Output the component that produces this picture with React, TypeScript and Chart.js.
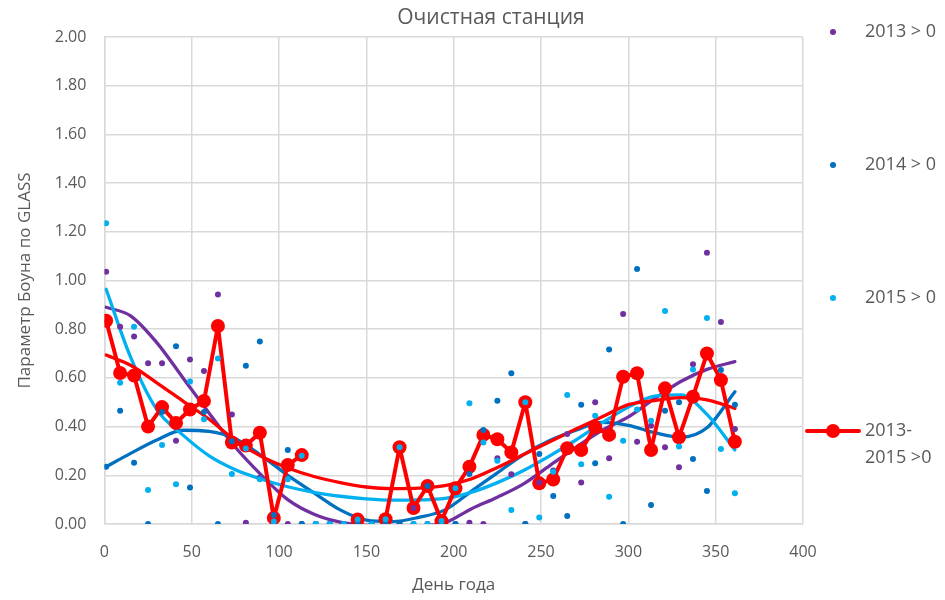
import React, { useEffect, useRef } from "react";
import { Chart, registerables } from "chart.js";

Chart.register(...registerables);

// ---------- text ----------
const TITLE = "Очистная станция";
const X_TITLE = "День года";
const Y_TITLE = "Параметр Боуна по GLASS";
const SERIES_NAMES = ["2013 > 0", "2014 > 0", "2015 > 0", "2013-2015 >0"];
const LEGEND_LINES = [["2013 > 0"], ["2014 > 0"], ["2015 > 0"], ["2013-", "2015 >0"]];

// ---------- data ----------
const days = [1, 9, 17, 25, 33, 41, 49, 57, 65, 73, 81, 89, 97, 105, 113, 121, 129, 137, 145, 153, 161, 169, 177, 185, 193, 201, 209, 217, 225, 233, 241, 249, 257, 265, 273, 281, 289, 297, 305, 313, 321, 329, 337, 345, 353, 361];

const v2013 = [1.036, 0.81, 0.77, 0.66, 0.66, 0.342, 0.676, 0.628, 0.943, 0.45, 0.005, 0.19, 0, 0, 0, 0, 0, 0, 0, 0, 0, 0, 0.066, 0, 0, 0, 0.005, 0, 0.27, 0.204, 0, 0.17, 0.22, 0.37, 0.17, 0.5, 0.27, 0.862, 0.338, 0.404, 0.315, 0.233, 0.656, 1.114, 0.83, 0.39];

const v2014 = [0.235, 0.465, 0.252, 0, 0.46, 0.73, 0.15, 0.46, 0, 0.34, 0.65, 0.75, 0.037, 0.304, 0, 0, 0, 0, 0, 0, 0, 0, 0, 0.156, 0, 0, 0.205, 0.386, 0.506, 0.619, 0, 0.287, 0.115, 0.033, 0.49, 0.25, 0.717, 0, 1.047, 0.078, 0.465, 0.5, 0.267, 0.136, 0.632, 0.49];

const v2015 = [1.235, 0.58, 0.81, 0.14, 0.324, 0.163, 0.585, 0.43, 0.68, 0.205, 0.31, 0.184, 0.01, 0.184, 0.28, 0, 0, 0, 0.018, 0, 0.02, 0.315, 0, 0, 0.012, 0.147, 0.496, 0.335, 0.26, 0.057, 0.5, 0.027, 0.215, 0.53, 0.245, 0.445, 0.112, 0.342, 0.47, 0.424, 0.875, 0.318, 0.635, 0.846, 0.308, 0.126];

const vAll = [0.835, 0.62, 0.61, 0.4, 0.48, 0.415, 0.47, 0.505, 0.813, 0.335, 0.322, 0.375, 0.025, 0.242, 0.283, null, null, null, 0.018, null, 0.02, 0.315, 0.066, 0.156, 0.012, 0.147, 0.235, 0.366, 0.348, 0.294, 0.5, 0.167, 0.183, 0.311, 0.304, 0.397, 0.366, 0.605, 0.619, 0.304, 0.557, 0.356, 0.523, 0.7, 0.591, 0.338];

// trend lines
const trendDays = [1, 15, 30, 45, 60, 75, 90, 105, 120, 135, 150, 165, 180, 195, 210, 225, 240, 255, 270, 285, 300, 315, 330, 345, 361];
const t2013 = [0.89, 0.855, 0.745, 0.6, 0.455, 0.315, 0.2, 0.1, 0.04, 0.008, -0.005, -0.012, -0.008, 0.005, 0.062, 0.11, 0.165, 0.24, 0.315, 0.385, 0.44, 0.515, 0.585, 0.635, 0.667];
const t2014 = [0.235, 0.29, 0.345, 0.385, 0.38, 0.35, 0.28, 0.2, 0.128, 0.058, 0.016, 0.01, 0.027, 0.058, 0.134, 0.21, 0.285, 0.343, 0.385, 0.417, 0.405, 0.375, 0.356, 0.395, 0.543];
const t2015 = [0.964, 0.685, 0.47, 0.365, 0.28, 0.223, 0.184, 0.153, 0.13, 0.114, 0.103, 0.098, 0.099, 0.105, 0.13, 0.17, 0.22, 0.28, 0.345, 0.415, 0.48, 0.525, 0.53, 0.45, 0.304];
const tAll = [0.694, 0.652, 0.58, 0.505, 0.43, 0.342, 0.277, 0.23, 0.195, 0.17, 0.152, 0.145, 0.147, 0.158, 0.185, 0.232, 0.285, 0.338, 0.39, 0.44, 0.49, 0.507, 0.519, 0.51, 0.475];

// ---------- styles ----------
const C2013 = "#7030A0";
const C2014 = "#0070C0";
const C2015 = "#00B0F0";
const CALL = "#FF0000";
const TEXT = "#595959";
const GRID = "#D9D9D9";
const FONT = "'Open Sans', 'Noto Sans', sans-serif";
const COLORS = [C2013, C2014, C2015, CALL];

const pts = (xs: number[], ys: (number | null)[]) => xs.map((x, i) => ({ x, y: ys[i] }));

const decorPlugin = {
  id: "decor",
  afterDraw(chart: any) {
    const ctx = chart.ctx as CanvasRenderingContext2D;
    ctx.save();
    // title
    ctx.fillStyle = TEXT;
    ctx.font = `21px ${FONT}`;
    ctx.textAlign = "center";
    ctx.textBaseline = "middle";
    ctx.fillText(TITLE, 491, 18);

    // legend
    const ys = [32, 165, 298, 431];
    ctx.font = `18px ${FONT}`;
    ctx.textAlign = "left";
    LEGEND_LINES.forEach((lines, i) => {
      const y = ys[i];
      const c = COLORS[i];
      if (i < 3) {
        ctx.fillStyle = c;
        ctx.beginPath();
        ctx.arc(833, y, 3, 0, Math.PI * 2);
        ctx.fill();
      } else {
        ctx.strokeStyle = c;
        ctx.lineWidth = 4;
        ctx.lineCap = "round";
        ctx.beginPath();
        ctx.moveTo(807, y);
        ctx.lineTo(859, y);
        ctx.stroke();
        ctx.fillStyle = c;
        ctx.beginPath();
        ctx.arc(833, y, 7, 0, Math.PI * 2);
        ctx.fill();
      }
      ctx.fillStyle = TEXT;
      lines.forEach((t, j) => ctx.fillText(t, 865, y + j * 27));
    });
    ctx.restore();
  },
};

export default function App() {
  const ref = useRef<HTMLCanvasElement | null>(null);

  useEffect(() => {
    if (!ref.current) return;
    const scatterStyle = (color: string) => ({
      showLine: false,
      pointRadius: 3,
      pointHoverRadius: 3,
      pointBorderWidth: 0,
      pointBackgroundColor: color,
      borderColor: color,
      backgroundColor: color,
    });
    const trendStyle = (color: string) => ({
      showLine: true,
      pointRadius: 0,
      borderColor: color,
      borderWidth: 3.3,
      borderCapStyle: "round" as const,
      borderJoinStyle: "round" as const,
      cubicInterpolationMode: "monotone" as const,
      fill: false,
    });

    const chart = new Chart(ref.current, {
      type: "scatter",
      data: {
        datasets: [
          { label: SERIES_NAMES[0], data: pts(days, v2013), order: 2, ...scatterStyle(C2013) },
          { label: SERIES_NAMES[1], data: pts(days, v2014), order: 1, ...scatterStyle(C2014) },
          { label: SERIES_NAMES[2], data: pts(days, v2015), order: 0, ...scatterStyle(C2015) },
          {
            label: SERIES_NAMES[3],
            data: pts(days, vAll),
            order: 3,
            showLine: true,
            spanGaps: false,
            borderColor: CALL,
            backgroundColor: CALL,
            borderWidth: 4,
            borderJoinStyle: "round",
            borderCapStyle: "round",
            pointRadius: 7,
            pointBorderWidth: 0,
            pointBackgroundColor: CALL,
            tension: 0,
          },
          { label: "trend 2013", data: pts(trendDays, t2013), order: 7, ...trendStyle(C2013) },
          { label: "trend 2014", data: pts(trendDays, t2014), order: 6, ...trendStyle(C2014) },
          { label: "trend 2015", data: pts(trendDays, t2015), order: 5, ...trendStyle(C2015) },
          { label: "trend 2013-2015", data: pts(trendDays, tAll), order: 4, ...trendStyle(CALL) },
        ],
      },
      options: {
        responsive: false,
        animation: false,
        devicePixelRatio: 1,
        layout: { padding: { top: 37, right: 142, left: 0, bottom: 0 } },
        plugins: {
          legend: { display: false },
          title: { display: false },
          tooltip: { enabled: false },
        },
        scales: {
          x: {
            type: "linear",
            min: 0,
            max: 400,
            afterFit: (s: any) => {
              s.height = 76;
            },
            ticks: {
              stepSize: 50,
              color: TEXT,
              font: { family: FONT, size: 16 },
              padding: 19,
              maxRotation: 0,
            },
            grid: { color: GRID, lineWidth: 1.5, drawTicks: false },
            border: { color: GRID, width: 1.5 },
            title: {
              display: true,
              text: X_TITLE,
              color: TEXT,
              font: { family: FONT, size: 17 },
              padding: { top: 0, bottom: 5 },
            },
          },
          y: {
            type: "linear",
            min: 0,
            max: 2,
            afterFit: (s: any) => {
              s.width = 104.4;
            },
            ticks: {
              stepSize: 0.2,
              color: TEXT,
              font: { family: FONT, size: 16 },
              padding: 18,
              callback: (v: any) => Number(v).toFixed(2),
            },
            grid: { color: GRID, lineWidth: 1.5, drawTicks: false },
            border: { color: GRID, width: 1.5 },
            title: {
              display: true,
              text: Y_TITLE,
              color: TEXT,
              font: { family: FONT, size: 17 },
              padding: { top: 15, bottom: 0 },
            },
          },
        },
      },
      plugins: [decorPlugin],
    } as any);
    return () => chart.destroy();
  }, []);

  return (
    <div style={{ position: "fixed", left: 0, top: 0, width: 945, height: 600, background: "#fff" }}>
      <canvas ref={ref} width={945} height={600} style={{ width: 945, height: 600, display: "block" }} />
    </div>
  );
}
